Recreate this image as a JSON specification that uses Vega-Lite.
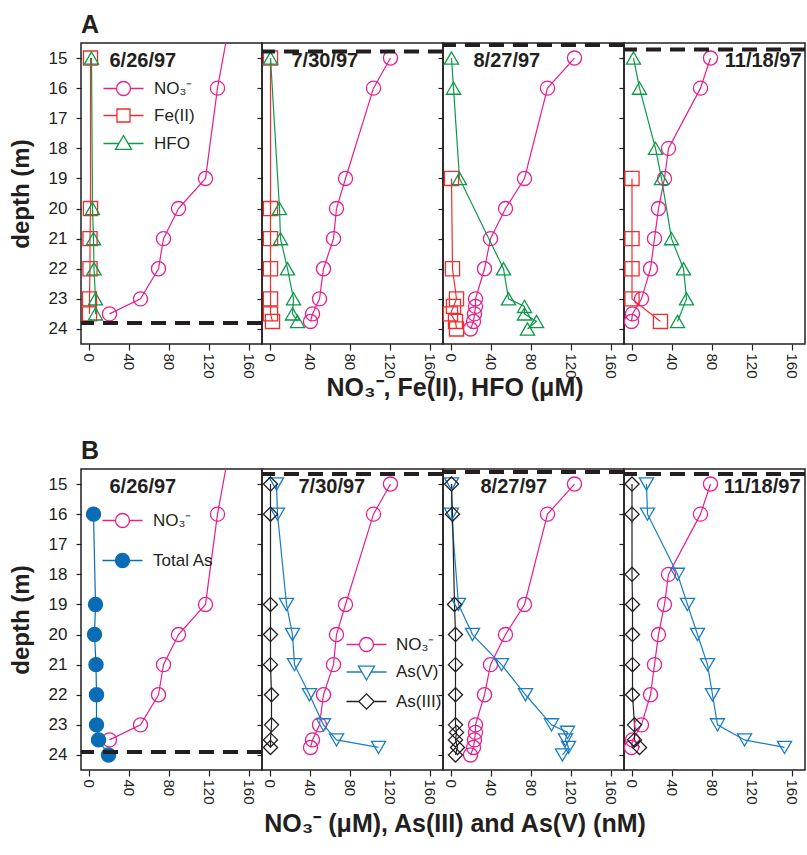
{
  "$schema": "https://vega.github.io/schema/vega-lite/v6.json",
  "background": "white",
  "padding": {"left": 8, "top": 12, "right": 0, "bottom": 0},
  "spacing": 37,
  "resolve": {"scale": {"color": "independent", "shape": "independent"}},
  "datasets": {
    "pts": [
      {"row":"A","date":"6/26/97","series":"NO₃⁻","depth":14,"value":140},
      {"row":"A","date":"6/26/97","series":"NO₃⁻","depth":16,"value":129},
      {"row":"A","date":"6/26/97","series":"NO₃⁻","depth":19,"value":117},
      {"row":"A","date":"6/26/97","series":"NO₃⁻","depth":20,"value":90},
      {"row":"A","date":"6/26/97","series":"NO₃⁻","depth":21,"value":75},
      {"row":"A","date":"6/26/97","series":"NO₃⁻","depth":22,"value":70},
      {"row":"A","date":"6/26/97","series":"NO₃⁻","depth":23,"value":52},
      {"row":"A","date":"6/26/97","series":"NO₃⁻","depth":23.5,"value":21},
      {"row":"A","date":"6/26/97","series":"Fe(II)","depth":15,"value":2},
      {"row":"A","date":"6/26/97","series":"Fe(II)","depth":20,"value":2},
      {"row":"A","date":"6/26/97","series":"Fe(II)","depth":21,"value":1.5},
      {"row":"A","date":"6/26/97","series":"Fe(II)","depth":22,"value":1.5},
      {"row":"A","date":"6/26/97","series":"Fe(II)","depth":23,"value":1},
      {"row":"A","date":"6/26/97","series":"Fe(II)","depth":23.5,"value":1},
      {"row":"A","date":"6/26/97","series":"HFO","depth":15,"value":3},
      {"row":"A","date":"6/26/97","series":"HFO","depth":20,"value":4},
      {"row":"A","date":"6/26/97","series":"HFO","depth":21,"value":5},
      {"row":"A","date":"6/26/97","series":"HFO","depth":22,"value":5.5},
      {"row":"A","date":"6/26/97","series":"HFO","depth":23,"value":7},
      {"row":"A","date":"6/26/97","series":"HFO","depth":23.5,"value":7},

      {"row":"A","date":"7/30/97","series":"NO₃⁻","depth":15,"value":121},
      {"row":"A","date":"7/30/97","series":"NO₃⁻","depth":16,"value":104},
      {"row":"A","date":"7/30/97","series":"NO₃⁻","depth":19,"value":76},
      {"row":"A","date":"7/30/97","series":"NO₃⁻","depth":20,"value":67},
      {"row":"A","date":"7/30/97","series":"NO₃⁻","depth":21,"value":64},
      {"row":"A","date":"7/30/97","series":"NO₃⁻","depth":22,"value":54},
      {"row":"A","date":"7/30/97","series":"NO₃⁻","depth":23,"value":50},
      {"row":"A","date":"7/30/97","series":"NO₃⁻","depth":23.5,"value":43},
      {"row":"A","date":"7/30/97","series":"NO₃⁻","depth":23.75,"value":41},
      {"row":"A","date":"7/30/97","series":"Fe(II)","depth":15,"value":1},
      {"row":"A","date":"7/30/97","series":"Fe(II)","depth":20,"value":1},
      {"row":"A","date":"7/30/97","series":"Fe(II)","depth":21,"value":1},
      {"row":"A","date":"7/30/97","series":"Fe(II)","depth":22,"value":1},
      {"row":"A","date":"7/30/97","series":"Fe(II)","depth":23,"value":1},
      {"row":"A","date":"7/30/97","series":"Fe(II)","depth":23.5,"value":1},
      {"row":"A","date":"7/30/97","series":"Fe(II)","depth":23.75,"value":3},
      {"row":"A","date":"7/30/97","series":"HFO","depth":15,"value":1},
      {"row":"A","date":"7/30/97","series":"HFO","depth":20,"value":10},
      {"row":"A","date":"7/30/97","series":"HFO","depth":21,"value":11},
      {"row":"A","date":"7/30/97","series":"HFO","depth":22,"value":18},
      {"row":"A","date":"7/30/97","series":"HFO","depth":23,"value":24},
      {"row":"A","date":"7/30/97","series":"HFO","depth":23.5,"value":23},
      {"row":"A","date":"7/30/97","series":"HFO","depth":23.75,"value":28},

      {"row":"A","date":"8/27/97","series":"NO₃⁻","depth":15,"value":124},
      {"row":"A","date":"8/27/97","series":"NO₃⁻","depth":16,"value":97},
      {"row":"A","date":"8/27/97","series":"NO₃⁻","depth":19,"value":74},
      {"row":"A","date":"8/27/97","series":"NO₃⁻","depth":20,"value":55},
      {"row":"A","date":"8/27/97","series":"NO₃⁻","depth":21,"value":40},
      {"row":"A","date":"8/27/97","series":"NO₃⁻","depth":22,"value":34},
      {"row":"A","date":"8/27/97","series":"NO₃⁻","depth":23,"value":25},
      {"row":"A","date":"8/27/97","series":"NO₃⁻","depth":23.25,"value":25},
      {"row":"A","date":"8/27/97","series":"NO₃⁻","depth":23.5,"value":24},
      {"row":"A","date":"8/27/97","series":"NO₃⁻","depth":23.75,"value":23},
      {"row":"A","date":"8/27/97","series":"NO₃⁻","depth":24,"value":20},
      {"row":"A","date":"8/27/97","series":"Fe(II)","depth":19,"value":1},
      {"row":"A","date":"8/27/97","series":"Fe(II)","depth":22,"value":2},
      {"row":"A","date":"8/27/97","series":"Fe(II)","depth":23,"value":6},
      {"row":"A","date":"8/27/97","series":"Fe(II)","depth":23.25,"value":3},
      {"row":"A","date":"8/27/97","series":"Fe(II)","depth":23.5,"value":0},
      {"row":"A","date":"8/27/97","series":"Fe(II)","depth":23.75,"value":5},
      {"row":"A","date":"8/27/97","series":"Fe(II)","depth":24,"value":6},
      {"row":"A","date":"8/27/97","series":"HFO","depth":15,"value":1},
      {"row":"A","date":"8/27/97","series":"HFO","depth":16,"value":3},
      {"row":"A","date":"8/27/97","series":"HFO","depth":19,"value":9},
      {"row":"A","date":"8/27/97","series":"HFO","depth":22,"value":53},
      {"row":"A","date":"8/27/97","series":"HFO","depth":23,"value":58},
      {"row":"A","date":"8/27/97","series":"HFO","depth":23.25,"value":74},
      {"row":"A","date":"8/27/97","series":"HFO","depth":23.5,"value":74},
      {"row":"A","date":"8/27/97","series":"HFO","depth":23.75,"value":86},
      {"row":"A","date":"8/27/97","series":"HFO","depth":24,"value":77},

      {"row":"A","date":"11/18/97","series":"NO₃⁻","depth":15,"value":79},
      {"row":"A","date":"11/18/97","series":"NO₃⁻","depth":16,"value":69},
      {"row":"A","date":"11/18/97","series":"NO₃⁻","depth":18,"value":37},
      {"row":"A","date":"11/18/97","series":"NO₃⁻","depth":19,"value":33},
      {"row":"A","date":"11/18/97","series":"NO₃⁻","depth":20,"value":27},
      {"row":"A","date":"11/18/97","series":"NO₃⁻","depth":21,"value":23},
      {"row":"A","date":"11/18/97","series":"NO₃⁻","depth":22,"value":19},
      {"row":"A","date":"11/18/97","series":"NO₃⁻","depth":23,"value":10},
      {"row":"A","date":"11/18/97","series":"NO₃⁻","depth":23.5,"value":1},
      {"row":"A","date":"11/18/97","series":"NO₃⁻","depth":23.75,"value":0},
      {"row":"A","date":"11/18/97","series":"Fe(II)","depth":19,"value":0.5},
      {"row":"A","date":"11/18/97","series":"Fe(II)","depth":21,"value":0.5},
      {"row":"A","date":"11/18/97","series":"Fe(II)","depth":22,"value":0.5},
      {"row":"A","date":"11/18/97","series":"Fe(II)","depth":23,"value":0.5},
      {"row":"A","date":"11/18/97","series":"Fe(II)","depth":23.75,"value":29},
      {"row":"A","date":"11/18/97","series":"HFO","depth":15,"value":2},
      {"row":"A","date":"11/18/97","series":"HFO","depth":16,"value":8},
      {"row":"A","date":"11/18/97","series":"HFO","depth":18,"value":24},
      {"row":"A","date":"11/18/97","series":"HFO","depth":19,"value":30},
      {"row":"A","date":"11/18/97","series":"HFO","depth":21,"value":40},
      {"row":"A","date":"11/18/97","series":"HFO","depth":22,"value":52},
      {"row":"A","date":"11/18/97","series":"HFO","depth":23,"value":55},
      {"row":"A","date":"11/18/97","series":"HFO","depth":23.75,"value":46},

      {"row":"B","date":"6/26/97","series":"NO₃⁻","depth":14,"value":140},
      {"row":"B","date":"6/26/97","series":"NO₃⁻","depth":16,"value":129},
      {"row":"B","date":"6/26/97","series":"NO₃⁻","depth":19,"value":117},
      {"row":"B","date":"6/26/97","series":"NO₃⁻","depth":20,"value":90},
      {"row":"B","date":"6/26/97","series":"NO₃⁻","depth":21,"value":75},
      {"row":"B","date":"6/26/97","series":"NO₃⁻","depth":22,"value":70},
      {"row":"B","date":"6/26/97","series":"NO₃⁻","depth":23,"value":52},
      {"row":"B","date":"6/26/97","series":"NO₃⁻","depth":23.5,"value":21},
      {"row":"B","date":"6/26/97","series":"Total As","depth":16,"value":5},
      {"row":"B","date":"6/26/97","series":"Total As","depth":19,"value":7},
      {"row":"B","date":"6/26/97","series":"Total As","depth":20,"value":6},
      {"row":"B","date":"6/26/97","series":"Total As","depth":21,"value":7.5},
      {"row":"B","date":"6/26/97","series":"Total As","depth":22,"value":8},
      {"row":"B","date":"6/26/97","series":"Total As","depth":23,"value":8},
      {"row":"B","date":"6/26/97","series":"Total As","depth":23.5,"value":10},
      {"row":"B","date":"6/26/97","series":"Total As","depth":24,"value":20},

      {"row":"B","date":"7/30/97","series":"NO₃⁻","depth":15,"value":121},
      {"row":"B","date":"7/30/97","series":"NO₃⁻","depth":16,"value":104},
      {"row":"B","date":"7/30/97","series":"NO₃⁻","depth":19,"value":76},
      {"row":"B","date":"7/30/97","series":"NO₃⁻","depth":20,"value":67},
      {"row":"B","date":"7/30/97","series":"NO₃⁻","depth":21,"value":64},
      {"row":"B","date":"7/30/97","series":"NO₃⁻","depth":22,"value":54},
      {"row":"B","date":"7/30/97","series":"NO₃⁻","depth":23,"value":50},
      {"row":"B","date":"7/30/97","series":"NO₃⁻","depth":23.5,"value":43},
      {"row":"B","date":"7/30/97","series":"NO₃⁻","depth":23.75,"value":41},
      {"row":"B","date":"7/30/97","series":"As(V)","depth":15,"value":7},
      {"row":"B","date":"7/30/97","series":"As(V)","depth":16,"value":8},
      {"row":"B","date":"7/30/97","series":"As(V)","depth":19,"value":17},
      {"row":"B","date":"7/30/97","series":"As(V)","depth":20,"value":23},
      {"row":"B","date":"7/30/97","series":"As(V)","depth":21,"value":25},
      {"row":"B","date":"7/30/97","series":"As(V)","depth":22,"value":40},
      {"row":"B","date":"7/30/97","series":"As(V)","depth":23,"value":54},
      {"row":"B","date":"7/30/97","series":"As(V)","depth":23.5,"value":67},
      {"row":"B","date":"7/30/97","series":"As(V)","depth":23.75,"value":109},
      {"row":"B","date":"7/30/97","series":"As(III)","depth":15,"value":1},
      {"row":"B","date":"7/30/97","series":"As(III)","depth":16,"value":1},
      {"row":"B","date":"7/30/97","series":"As(III)","depth":19,"value":1},
      {"row":"B","date":"7/30/97","series":"As(III)","depth":20,"value":1},
      {"row":"B","date":"7/30/97","series":"As(III)","depth":21,"value":1},
      {"row":"B","date":"7/30/97","series":"As(III)","depth":22,"value":2},
      {"row":"B","date":"7/30/97","series":"As(III)","depth":23,"value":2},
      {"row":"B","date":"7/30/97","series":"As(III)","depth":23.5,"value":1},
      {"row":"B","date":"7/30/97","series":"As(III)","depth":23.75,"value":1},

      {"row":"B","date":"8/27/97","series":"NO₃⁻","depth":15,"value":124},
      {"row":"B","date":"8/27/97","series":"NO₃⁻","depth":16,"value":97},
      {"row":"B","date":"8/27/97","series":"NO₃⁻","depth":19,"value":74},
      {"row":"B","date":"8/27/97","series":"NO₃⁻","depth":20,"value":55},
      {"row":"B","date":"8/27/97","series":"NO₃⁻","depth":21,"value":40},
      {"row":"B","date":"8/27/97","series":"NO₃⁻","depth":22,"value":34},
      {"row":"B","date":"8/27/97","series":"NO₃⁻","depth":23,"value":25},
      {"row":"B","date":"8/27/97","series":"NO₃⁻","depth":23.25,"value":25},
      {"row":"B","date":"8/27/97","series":"NO₃⁻","depth":23.5,"value":24},
      {"row":"B","date":"8/27/97","series":"NO₃⁻","depth":23.75,"value":23},
      {"row":"B","date":"8/27/97","series":"NO₃⁻","depth":24,"value":20},
      {"row":"B","date":"8/27/97","series":"As(V)","depth":15,"value":1},
      {"row":"B","date":"8/27/97","series":"As(V)","depth":16,"value":1},
      {"row":"B","date":"8/27/97","series":"As(V)","depth":19,"value":8},
      {"row":"B","date":"8/27/97","series":"As(V)","depth":20,"value":22},
      {"row":"B","date":"8/27/97","series":"As(V)","depth":21,"value":51},
      {"row":"B","date":"8/27/97","series":"As(V)","depth":22,"value":75},
      {"row":"B","date":"8/27/97","series":"As(V)","depth":23,"value":101},
      {"row":"B","date":"8/27/97","series":"As(V)","depth":23.25,"value":117},
      {"row":"B","date":"8/27/97","series":"As(V)","depth":23.5,"value":115},
      {"row":"B","date":"8/27/97","series":"As(V)","depth":23.75,"value":118},
      {"row":"B","date":"8/27/97","series":"As(V)","depth":24,"value":112},
      {"row":"B","date":"8/27/97","series":"As(III)","depth":15,"value":1},
      {"row":"B","date":"8/27/97","series":"As(III)","depth":16,"value":2},
      {"row":"B","date":"8/27/97","series":"As(III)","depth":19,"value":4},
      {"row":"B","date":"8/27/97","series":"As(III)","depth":20,"value":5},
      {"row":"B","date":"8/27/97","series":"As(III)","depth":21,"value":5},
      {"row":"B","date":"8/27/97","series":"As(III)","depth":22,"value":5},
      {"row":"B","date":"8/27/97","series":"As(III)","depth":23,"value":5},
      {"row":"B","date":"8/27/97","series":"As(III)","depth":23.25,"value":6},
      {"row":"B","date":"8/27/97","series":"As(III)","depth":23.5,"value":5},
      {"row":"B","date":"8/27/97","series":"As(III)","depth":23.75,"value":7},
      {"row":"B","date":"8/27/97","series":"As(III)","depth":24,"value":5},

      {"row":"B","date":"11/18/97","series":"NO₃⁻","depth":15,"value":79},
      {"row":"B","date":"11/18/97","series":"NO₃⁻","depth":16,"value":69},
      {"row":"B","date":"11/18/97","series":"NO₃⁻","depth":18,"value":37},
      {"row":"B","date":"11/18/97","series":"NO₃⁻","depth":19,"value":33},
      {"row":"B","date":"11/18/97","series":"NO₃⁻","depth":20,"value":27},
      {"row":"B","date":"11/18/97","series":"NO₃⁻","depth":21,"value":23},
      {"row":"B","date":"11/18/97","series":"NO₃⁻","depth":22,"value":19},
      {"row":"B","date":"11/18/97","series":"NO₃⁻","depth":23,"value":10},
      {"row":"B","date":"11/18/97","series":"NO₃⁻","depth":23.5,"value":1},
      {"row":"B","date":"11/18/97","series":"NO₃⁻","depth":23.75,"value":0},
      {"row":"B","date":"11/18/97","series":"As(V)","depth":15,"value":15},
      {"row":"B","date":"11/18/97","series":"As(V)","depth":16,"value":16},
      {"row":"B","date":"11/18/97","series":"As(V)","depth":18,"value":46},
      {"row":"B","date":"11/18/97","series":"As(V)","depth":19,"value":56},
      {"row":"B","date":"11/18/97","series":"As(V)","depth":20,"value":66},
      {"row":"B","date":"11/18/97","series":"As(V)","depth":21,"value":76},
      {"row":"B","date":"11/18/97","series":"As(V)","depth":22,"value":81},
      {"row":"B","date":"11/18/97","series":"As(V)","depth":23,"value":86},
      {"row":"B","date":"11/18/97","series":"As(V)","depth":23.5,"value":113},
      {"row":"B","date":"11/18/97","series":"As(V)","depth":23.75,"value":153},
      {"row":"B","date":"11/18/97","series":"As(III)","depth":15,"value":0.5},
      {"row":"B","date":"11/18/97","series":"As(III)","depth":16,"value":0.5},
      {"row":"B","date":"11/18/97","series":"As(III)","depth":18,"value":0.5},
      {"row":"B","date":"11/18/97","series":"As(III)","depth":19,"value":1},
      {"row":"B","date":"11/18/97","series":"As(III)","depth":20,"value":1},
      {"row":"B","date":"11/18/97","series":"As(III)","depth":21,"value":1},
      {"row":"B","date":"11/18/97","series":"As(III)","depth":22,"value":1},
      {"row":"B","date":"11/18/97","series":"As(III)","depth":23,"value":3},
      {"row":"B","date":"11/18/97","series":"As(III)","depth":23.5,"value":3},
      {"row":"B","date":"11/18/97","series":"As(III)","depth":23.75,"value":8}
    ],
    "panels": [
      {"row":"A","date":"6/26/97","interface":23.8},
      {"row":"A","date":"7/30/97","interface":14.78},
      {"row":"A","date":"8/27/97","interface":14.57},
      {"row":"A","date":"11/18/97","interface":14.72},
      {"row":"B","date":"6/26/97","interface":23.9},
      {"row":"B","date":"7/30/97","interface":14.67},
      {"row":"B","date":"8/27/97","interface":14.6},
      {"row":"B","date":"11/18/97","interface":14.67}
    ]
  },
  "vconcat": [
    {
      "title": {"text": "NO₃⁻, Fe(II), HFO (μM)", "orient": "bottom", "anchor": "middle", "dx": 47, "offset": -3},
      "bounds": "flush",
      "spacing": 0,
      "resolve": {"scale": {"color": "independent", "shape": "independent"}},
      "hconcat": [
        {
          "width": 181, "height": 301,
          "layer": [
            {"data": {"name": "pts"}, "transform": [{"filter": "datum.row == 'A' && datum.date == '6/26/97'"}],
             "mark": {"type": "line", "strokeWidth": 1.2, "clip": true},
             "encoding": {
               "x": {"field": "value", "type": "quantitative", "scale": {"domain": [-7.5, 173.5], "nice": false, "zero": false}, "axis": {"values": [0,40,80,120,160], "labelAngle": 90, "tickSize": 6, "labelPadding": 3, "labelOverlap": false, "title": null}},
               "y": {"field": "depth", "type": "quantitative", "scale": {"domain": [14.5, 24.5], "reverse": true, "nice": false, "zero": false}, "axis": {"values": [15,16,17,18,19,20,21,22,23,24], "labelOverlap": false, "title": "depth (m)", "tickSize": 5, "labelPadding": 9, "titlePadding": 15}},
               "color": {"field": "series", "type": "nominal", "scale": {"domain": ["NO₃⁻","Fe(II)","HFO"], "range": ["#e91e8c","#ee2d2f","#0b9a48"]}},
               "order": {"field": "depth", "type": "quantitative"}
             }},
            {"data": {"name": "pts"}, "transform": [{"filter": "datum.row == 'A' && datum.date == '6/26/97'"}],
             "mark": {"type": "point", "filled": false, "strokeWidth": 1.3, "size": 200, "opacity": 1, "clip": true},
             "encoding": {
               "x": {"field": "value", "type": "quantitative", "scale": {"domain": [-7.5, 173.5], "nice": false, "zero": false}, "axis": {"values": [0,40,80,120,160], "labelAngle": 90, "tickSize": 6, "labelPadding": 3, "labelOverlap": false, "title": null}},
               "y": {"field": "depth", "type": "quantitative", "scale": {"domain": [14.5, 24.5], "reverse": true, "nice": false, "zero": false}, "axis": {"values": [15,16,17,18,19,20,21,22,23,24], "labelOverlap": false, "title": "depth (m)", "tickSize": 5, "labelPadding": 9, "titlePadding": 15}},
               "color": {"field": "series", "type": "nominal", "scale": {"domain": ["NO₃⁻","Fe(II)","HFO"], "range": ["#e91e8c","#ee2d2f","#0b9a48"]}},
               "shape": {"condition": [{"test": "datum.series == 'NO₃⁻'", "value": "circle"}, {"test": "datum.series == 'Fe(II)'", "value": "square"}], "value": "triangle-up"}
             }},
            {"data": {"name": "pts"}, "transform": [{"filter": "datum.depth < 0"}],
             "mark": {"type": "point", "filled": false, "strokeWidth": 1.3, "size": 196},
             "encoding": {
               "x": {"field": "value", "type": "quantitative", "scale": {"domain": [-7.5, 173.5], "nice": false, "zero": false}, "axis": {"values": [0,40,80,120,160], "labelAngle": 90, "tickSize": 6, "labelPadding": 3, "labelOverlap": false, "title": null}},
               "y": {"field": "depth", "type": "quantitative", "scale": {"domain": [14.5, 24.5], "reverse": true, "nice": false, "zero": false}, "axis": {"values": [15,16,17,18,19,20,21,22,23,24], "labelOverlap": false, "title": "depth (m)", "tickSize": 5, "labelPadding": 9, "titlePadding": 15}},
               "color": {"field": "series", "type": "nominal", "scale": {"domain": ["NO₃⁻","Fe(II)","HFO"], "range": ["#e91e8c","#ee2d2f","#0b9a48"]},
                 "legend": {"orient": "none", "legendX": 34, "legendY": 37, "title": null, "symbolSize": 196, "symbolStrokeWidth": 1.3, "symbolOpacity": 1, "labelFontSize": 17, "labelOffset": 22, "rowPadding": 7}},
               "shape": {"field": "series", "type": "nominal", "scale": {"domain": ["NO₃⁻","Fe(II)","HFO"], "range": ["M-2.86,0H-1M1,0H2.86M1,0A1,1,0,1,1,-1,0A1,1,0,1,1,1,0Z", "M-2.86,0H-0.93M0.93,0H2.86M-0.93,-0.93H0.93V0.93H-0.93Z", "M-2.86,0H-0.66M0.66,0H2.86M0,-1.15L1.15,0.85H-1.15Z"]},
                 "legend": {"orient": "none", "legendX": 34, "legendY": 37, "title": null, "symbolSize": 196, "symbolStrokeWidth": 1.3, "symbolOpacity": 1, "labelFontSize": 17, "labelOffset": 22, "rowPadding": 7}}
             }},
            {"data": {"name": "panels"}, "transform": [{"filter": "datum.row == 'A' && datum.date == '6/26/97'"}],
             "mark": {"type": "rule", "strokeDash": [15, 9], "strokeWidth": 4, "color": "#231f20"},
             "encoding": {"y": {"field": "interface", "type": "quantitative", "scale": {"domain": [14.5, 24.5], "reverse": true, "nice": false, "zero": false}, "axis": {"values": [15,16,17,18,19,20,21,22,23,24], "labelOverlap": false, "title": "depth (m)", "tickSize": 5, "labelPadding": 9, "titlePadding": 15}}}},
            {"data": {"name": "panels"}, "transform": [{"filter": "datum.row == 'A' && datum.date == '6/26/97'"}],
             "mark": {"type": "text", "align": "left", "baseline": "middle", "fontSize": 20, "fontWeight": "bold", "color": "#231f20"},
             "encoding": {
               "x": {"datum": 21, "type": "quantitative", "scale": {"domain": [-7.5, 173.5], "nice": false, "zero": false}, "axis": {"values": [0,40,80,120,160], "labelAngle": 90, "tickSize": 6, "labelPadding": 3, "labelOverlap": false, "title": null}},
               "y": {"datum": 15.1, "type": "quantitative", "scale": {"domain": [14.5, 24.5], "reverse": true, "nice": false, "zero": false}, "axis": {"values": [15,16,17,18,19,20,21,22,23,24], "labelOverlap": false, "title": "depth (m)", "tickSize": 5, "labelPadding": 9, "titlePadding": 15}},
               "text": {"field": "date"}}},
            {"data": {"values": [{"panel": "A"}]},
             "mark": {"type": "text", "align": "left", "baseline": "alphabetic", "dy": -10, "fontSize": 25, "fontWeight": "bold", "color": "#231f20"},
             "encoding": {
               "x": {"datum": -7.5, "type": "quantitative", "scale": {"domain": [-7.5, 173.5], "nice": false, "zero": false}, "axis": {"values": [0,40,80,120,160], "labelAngle": 90, "tickSize": 6, "labelPadding": 3, "labelOverlap": false, "title": null}},
               "y": {"datum": 14.5, "type": "quantitative", "scale": {"domain": [14.5, 24.5], "reverse": true, "nice": false, "zero": false}, "axis": {"values": [15,16,17,18,19,20,21,22,23,24], "labelOverlap": false, "title": "depth (m)", "tickSize": 5, "labelPadding": 9, "titlePadding": 15}},
               "text": {"field": "panel"}}}
          ]
        },
        {
          "width": 181, "height": 301,
          "layer": [
            {"data": {"name": "pts"}, "transform": [{"filter": "datum.row == 'A' && datum.date == '7/30/97'"}],
             "mark": {"type": "line", "strokeWidth": 1.2, "clip": true},
             "encoding": {
               "x": {"field": "value", "type": "quantitative", "scale": {"domain": [-7.5, 173.5], "nice": false, "zero": false}, "axis": {"values": [0,40,80,120,160], "labelAngle": 90, "tickSize": 6, "labelPadding": 3, "labelOverlap": false, "title": null}},
               "y": {"field": "depth", "type": "quantitative", "scale": {"domain": [14.5, 24.5], "reverse": true, "nice": false, "zero": false}, "axis": {"values": [15,16,17,18,19,20,21,22,23,24], "labels": false, "title": null, "tickSize": 5}},
               "color": {"field": "series", "type": "nominal", "scale": {"domain": ["NO₃⁻","Fe(II)","HFO"], "range": ["#e91e8c","#ee2d2f","#0b9a48"]}, "legend": null},
               "order": {"field": "depth", "type": "quantitative"}
             }},
            {"data": {"name": "pts"}, "transform": [{"filter": "datum.row == 'A' && datum.date == '7/30/97'"}],
             "mark": {"type": "point", "filled": false, "strokeWidth": 1.3, "size": 200, "opacity": 1, "clip": true},
             "encoding": {
               "x": {"field": "value", "type": "quantitative", "scale": {"domain": [-7.5, 173.5], "nice": false, "zero": false}, "axis": {"values": [0,40,80,120,160], "labelAngle": 90, "tickSize": 6, "labelPadding": 3, "labelOverlap": false, "title": null}},
               "y": {"field": "depth", "type": "quantitative", "scale": {"domain": [14.5, 24.5], "reverse": true, "nice": false, "zero": false}, "axis": {"values": [15,16,17,18,19,20,21,22,23,24], "labels": false, "title": null, "tickSize": 5}},
               "color": {"field": "series", "type": "nominal", "scale": {"domain": ["NO₃⁻","Fe(II)","HFO"], "range": ["#e91e8c","#ee2d2f","#0b9a48"]}, "legend": null},
               "shape": {"field": "series", "type": "nominal", "scale": {"domain": ["NO₃⁻","Fe(II)","HFO"], "range": ["circle","square","triangle-up"]}, "legend": null}
             }},
            {"data": {"name": "panels"}, "transform": [{"filter": "datum.row == 'A' && datum.date == '7/30/97'"}],
             "mark": {"type": "rule", "strokeDash": [15, 9], "strokeWidth": 4, "color": "#231f20"},
             "encoding": {"y": {"field": "interface", "type": "quantitative", "scale": {"domain": [14.5, 24.5], "reverse": true, "nice": false, "zero": false}, "axis": {"values": [15,16,17,18,19,20,21,22,23,24], "labels": false, "title": null, "tickSize": 5}}}},
            {"data": {"name": "panels"}, "transform": [{"filter": "datum.row == 'A' && datum.date == '7/30/97'"}],
             "mark": {"type": "text", "align": "left", "baseline": "middle", "fontSize": 20, "fontWeight": "bold", "color": "#231f20"},
             "encoding": {
               "x": {"datum": 22, "type": "quantitative", "scale": {"domain": [-7.5, 173.5], "nice": false, "zero": false}, "axis": {"values": [0,40,80,120,160], "labelAngle": 90, "tickSize": 6, "labelPadding": 3, "labelOverlap": false, "title": null}},
               "y": {"datum": 15.1, "type": "quantitative", "scale": {"domain": [14.5, 24.5], "reverse": true, "nice": false, "zero": false}, "axis": {"values": [15,16,17,18,19,20,21,22,23,24], "labels": false, "title": null, "tickSize": 5}},
               "text": {"field": "date"}}}
          ]
        },
        {
          "width": 181, "height": 301,
          "layer": [
            {"data": {"name": "pts"}, "transform": [{"filter": "datum.row == 'A' && datum.date == '8/27/97'"}],
             "mark": {"type": "line", "strokeWidth": 1.2, "clip": true},
             "encoding": {
               "x": {"field": "value", "type": "quantitative", "scale": {"domain": [-7.5, 173.5], "nice": false, "zero": false}, "axis": {"values": [0,40,80,120,160], "labelAngle": 90, "tickSize": 6, "labelPadding": 3, "labelOverlap": false, "title": null}},
               "y": {"field": "depth", "type": "quantitative", "scale": {"domain": [14.5, 24.5], "reverse": true, "nice": false, "zero": false}, "axis": {"values": [15,16,17,18,19,20,21,22,23,24], "labels": false, "title": null, "tickSize": 5}},
               "color": {"field": "series", "type": "nominal", "scale": {"domain": ["NO₃⁻","Fe(II)","HFO"], "range": ["#e91e8c","#ee2d2f","#0b9a48"]}, "legend": null},
               "order": {"field": "depth", "type": "quantitative"}
             }},
            {"data": {"name": "pts"}, "transform": [{"filter": "datum.row == 'A' && datum.date == '8/27/97'"}],
             "mark": {"type": "point", "filled": false, "strokeWidth": 1.3, "size": 200, "opacity": 1, "clip": true},
             "encoding": {
               "x": {"field": "value", "type": "quantitative", "scale": {"domain": [-7.5, 173.5], "nice": false, "zero": false}, "axis": {"values": [0,40,80,120,160], "labelAngle": 90, "tickSize": 6, "labelPadding": 3, "labelOverlap": false, "title": null}},
               "y": {"field": "depth", "type": "quantitative", "scale": {"domain": [14.5, 24.5], "reverse": true, "nice": false, "zero": false}, "axis": {"values": [15,16,17,18,19,20,21,22,23,24], "labels": false, "title": null, "tickSize": 5}},
               "color": {"field": "series", "type": "nominal", "scale": {"domain": ["NO₃⁻","Fe(II)","HFO"], "range": ["#e91e8c","#ee2d2f","#0b9a48"]}, "legend": null},
               "shape": {"field": "series", "type": "nominal", "scale": {"domain": ["NO₃⁻","Fe(II)","HFO"], "range": ["circle","square","triangle-up"]}, "legend": null}
             }},
            {"data": {"name": "panels"}, "transform": [{"filter": "datum.row == 'A' && datum.date == '8/27/97'"}],
             "mark": {"type": "rule", "strokeDash": [15, 9], "strokeWidth": 4, "color": "#231f20"},
             "encoding": {"y": {"field": "interface", "type": "quantitative", "scale": {"domain": [14.5, 24.5], "reverse": true, "nice": false, "zero": false}, "axis": {"values": [15,16,17,18,19,20,21,22,23,24], "labels": false, "title": null, "tickSize": 5}}}},
            {"data": {"name": "panels"}, "transform": [{"filter": "datum.row == 'A' && datum.date == '8/27/97'"}],
             "mark": {"type": "text", "align": "left", "baseline": "middle", "fontSize": 20, "fontWeight": "bold", "color": "#231f20"},
             "encoding": {
               "x": {"datum": 23, "type": "quantitative", "scale": {"domain": [-7.5, 173.5], "nice": false, "zero": false}, "axis": {"values": [0,40,80,120,160], "labelAngle": 90, "tickSize": 6, "labelPadding": 3, "labelOverlap": false, "title": null}},
               "y": {"datum": 15.1, "type": "quantitative", "scale": {"domain": [14.5, 24.5], "reverse": true, "nice": false, "zero": false}, "axis": {"values": [15,16,17,18,19,20,21,22,23,24], "labels": false, "title": null, "tickSize": 5}},
               "text": {"field": "date"}}}
          ]
        },
        {
          "width": 181, "height": 301,
          "layer": [
            {"data": {"name": "pts"}, "transform": [{"filter": "datum.row == 'A' && datum.date == '11/18/97'"}],
             "mark": {"type": "line", "strokeWidth": 1.2, "clip": true},
             "encoding": {
               "x": {"field": "value", "type": "quantitative", "scale": {"domain": [-7.5, 173.5], "nice": false, "zero": false}, "axis": {"values": [0,40,80,120,160], "labelAngle": 90, "tickSize": 6, "labelPadding": 3, "labelOverlap": false, "title": null}},
               "y": {"field": "depth", "type": "quantitative", "scale": {"domain": [14.5, 24.5], "reverse": true, "nice": false, "zero": false}, "axis": {"values": [15,16,17,18,19,20,21,22,23,24], "labels": false, "title": null, "tickSize": 5}},
               "color": {"field": "series", "type": "nominal", "scale": {"domain": ["NO₃⁻","Fe(II)","HFO"], "range": ["#e91e8c","#ee2d2f","#0b9a48"]}, "legend": null},
               "order": {"field": "depth", "type": "quantitative"}
             }},
            {"data": {"name": "pts"}, "transform": [{"filter": "datum.row == 'A' && datum.date == '11/18/97'"}],
             "mark": {"type": "point", "filled": false, "strokeWidth": 1.3, "size": 200, "opacity": 1, "clip": true},
             "encoding": {
               "x": {"field": "value", "type": "quantitative", "scale": {"domain": [-7.5, 173.5], "nice": false, "zero": false}, "axis": {"values": [0,40,80,120,160], "labelAngle": 90, "tickSize": 6, "labelPadding": 3, "labelOverlap": false, "title": null}},
               "y": {"field": "depth", "type": "quantitative", "scale": {"domain": [14.5, 24.5], "reverse": true, "nice": false, "zero": false}, "axis": {"values": [15,16,17,18,19,20,21,22,23,24], "labels": false, "title": null, "tickSize": 5}},
               "color": {"field": "series", "type": "nominal", "scale": {"domain": ["NO₃⁻","Fe(II)","HFO"], "range": ["#e91e8c","#ee2d2f","#0b9a48"]}, "legend": null},
               "shape": {"field": "series", "type": "nominal", "scale": {"domain": ["NO₃⁻","Fe(II)","HFO"], "range": ["circle","square","triangle-up"]}, "legend": null}
             }},
            {"data": {"name": "panels"}, "transform": [{"filter": "datum.row == 'A' && datum.date == '11/18/97'"}],
             "mark": {"type": "rule", "strokeDash": [15, 9], "strokeWidth": 4, "color": "#231f20"},
             "encoding": {"y": {"field": "interface", "type": "quantitative", "scale": {"domain": [14.5, 24.5], "reverse": true, "nice": false, "zero": false}, "axis": {"values": [15,16,17,18,19,20,21,22,23,24], "labels": false, "title": null, "tickSize": 5}}}},
            {"data": {"name": "panels"}, "transform": [{"filter": "datum.row == 'A' && datum.date == '11/18/97'"}],
             "mark": {"type": "text", "align": "right", "baseline": "middle", "fontSize": 20, "fontWeight": "bold", "color": "#231f20"},
             "encoding": {
               "x": {"datum": 170, "type": "quantitative", "scale": {"domain": [-7.5, 173.5], "nice": false, "zero": false}, "axis": {"values": [0,40,80,120,160], "labelAngle": 90, "tickSize": 6, "labelPadding": 3, "labelOverlap": false, "title": null}},
               "y": {"datum": 15.1, "type": "quantitative", "scale": {"domain": [14.5, 24.5], "reverse": true, "nice": false, "zero": false}, "axis": {"values": [15,16,17,18,19,20,21,22,23,24], "labels": false, "title": null, "tickSize": 5}},
               "text": {"field": "date"}}}
          ]
        }
      ]
    },
    {
      "title": {"text": "NO₃⁻ (μM), As(III) and As(V) (nM)", "orient": "bottom", "anchor": "middle", "dx": 47, "offset": 7},
      "bounds": "flush",
      "spacing": 0,
      "resolve": {"scale": {"color": "independent", "shape": "independent"}},
      "hconcat": [
        {
          "width": 181, "height": 301,
          "layer": [
            {"data": {"name": "pts"}, "transform": [{"filter": "datum.row == 'B' && datum.date == '6/26/97'"}],
             "mark": {"type": "line", "strokeWidth": 1.2, "clip": true},
             "encoding": {
               "x": {"field": "value", "type": "quantitative", "scale": {"domain": [-7.5, 173.5], "nice": false, "zero": false}, "axis": {"values": [0,40,80,120,160], "labelAngle": 90, "tickSize": 6, "labelPadding": 3, "labelOverlap": false, "title": null}},
               "y": {"field": "depth", "type": "quantitative", "scale": {"domain": [14.5, 24.5], "reverse": true, "nice": false, "zero": false}, "axis": {"values": [15,16,17,18,19,20,21,22,23,24], "labelOverlap": false, "title": "depth (m)", "tickSize": 5, "labelPadding": 9, "titlePadding": 15}},
               "color": {"field": "series", "type": "nominal", "scale": {"domain": ["NO₃⁻","Total As"], "range": ["#e91e8c","#0a6cb5"]}},
               "order": {"field": "depth", "type": "quantitative"}
             }},
            {"data": {"name": "pts"}, "transform": [{"filter": "datum.row == 'B' && datum.date == '6/26/97'"}],
             "mark": {"type": "point", "filled": false, "shape": "circle", "strokeWidth": 1.3, "size": 200, "opacity": 1, "clip": true},
             "encoding": {
               "x": {"field": "value", "type": "quantitative", "scale": {"domain": [-7.5, 173.5], "nice": false, "zero": false}, "axis": {"values": [0,40,80,120,160], "labelAngle": 90, "tickSize": 6, "labelPadding": 3, "labelOverlap": false, "title": null}},
               "y": {"field": "depth", "type": "quantitative", "scale": {"domain": [14.5, 24.5], "reverse": true, "nice": false, "zero": false}, "axis": {"values": [15,16,17,18,19,20,21,22,23,24], "labelOverlap": false, "title": "depth (m)", "tickSize": 5, "labelPadding": 9, "titlePadding": 15}},
               "fill": {"condition": {"test": "datum.series == 'Total As'", "value": "#0a6cb5"}, "value": "transparent"},
               "color": {"field": "series", "type": "nominal", "scale": {"domain": ["NO₃⁻","Total As"], "range": ["#e91e8c","#0a6cb5"]}}
             }},
            {"data": {"name": "pts"}, "transform": [{"filter": "datum.depth < 0"}],
             "mark": {"type": "point", "filled": false, "strokeWidth": 1.3, "size": 196},
             "encoding": {
               "x": {"field": "value", "type": "quantitative", "scale": {"domain": [-7.5, 173.5], "nice": false, "zero": false}, "axis": {"values": [0,40,80,120,160], "labelAngle": 90, "tickSize": 6, "labelPadding": 3, "labelOverlap": false, "title": null}},
               "y": {"field": "depth", "type": "quantitative", "scale": {"domain": [14.5, 24.5], "reverse": true, "nice": false, "zero": false}, "axis": {"values": [15,16,17,18,19,20,21,22,23,24], "labelOverlap": false, "title": "depth (m)", "tickSize": 5, "labelPadding": 9, "titlePadding": 15}},
               "color": {"field": "series", "type": "nominal", "scale": {"domain": ["NO₃⁻","Total As"], "range": ["#e91e8c","#0a6cb5"]},
                 "legend": {"orient": "none", "legendX": 33, "legendY": 43, "title": null, "symbolSize": 196, "symbolStrokeWidth": 1.3, "symbolOpacity": 1, "labelFontSize": 17, "labelOffset": 22, "rowPadding": 19,
                   "encoding": {"symbols": {"fill": {"condition": {"test": "datum.value == 'Total As'", "value": "#0a6cb5"}, "value": "transparent"}}}}},
               "shape": {"field": "series", "type": "nominal", "scale": {"domain": ["NO₃⁻","Total As"], "range": ["M-2.86,0H-1M1,0H2.86M1,0A1,1,0,1,1,-1,0A1,1,0,1,1,1,0Z", "M-2.86,0H-1M1,0H2.86M1,0A1,1,0,1,1,-1,0A1,1,0,1,1,1,0Z"]},
                 "legend": {"orient": "none", "legendX": 33, "legendY": 43, "title": null, "symbolSize": 196, "symbolStrokeWidth": 1.3, "symbolOpacity": 1, "labelFontSize": 17, "labelOffset": 22, "rowPadding": 19,
                   "encoding": {"symbols": {"fill": {"condition": {"test": "datum.value == 'Total As'", "value": "#0a6cb5"}, "value": "transparent"}}}}}
             }},
            {"data": {"name": "panels"}, "transform": [{"filter": "datum.row == 'B' && datum.date == '6/26/97'"}],
             "mark": {"type": "rule", "strokeDash": [15, 9], "strokeWidth": 4, "color": "#231f20"},
             "encoding": {"y": {"field": "interface", "type": "quantitative", "scale": {"domain": [14.5, 24.5], "reverse": true, "nice": false, "zero": false}, "axis": {"values": [15,16,17,18,19,20,21,22,23,24], "labelOverlap": false, "title": "depth (m)", "tickSize": 5, "labelPadding": 9, "titlePadding": 15}}}},
            {"data": {"name": "panels"}, "transform": [{"filter": "datum.row == 'B' && datum.date == '6/26/97'"}],
             "mark": {"type": "text", "align": "left", "baseline": "middle", "fontSize": 20, "fontWeight": "bold", "color": "#231f20"},
             "encoding": {
               "x": {"datum": 21, "type": "quantitative", "scale": {"domain": [-7.5, 173.5], "nice": false, "zero": false}, "axis": {"values": [0,40,80,120,160], "labelAngle": 90, "tickSize": 6, "labelPadding": 3, "labelOverlap": false, "title": null}},
               "y": {"datum": 15.1, "type": "quantitative", "scale": {"domain": [14.5, 24.5], "reverse": true, "nice": false, "zero": false}, "axis": {"values": [15,16,17,18,19,20,21,22,23,24], "labelOverlap": false, "title": "depth (m)", "tickSize": 5, "labelPadding": 9, "titlePadding": 15}},
               "text": {"field": "date"}}},
            {"data": {"values": [{"panel": "B"}]},
             "mark": {"type": "text", "align": "left", "baseline": "alphabetic", "dy": -10, "fontSize": 25, "fontWeight": "bold", "color": "#231f20"},
             "encoding": {
               "x": {"datum": -7.5, "type": "quantitative", "scale": {"domain": [-7.5, 173.5], "nice": false, "zero": false}, "axis": {"values": [0,40,80,120,160], "labelAngle": 90, "tickSize": 6, "labelPadding": 3, "labelOverlap": false, "title": null}},
               "y": {"datum": 14.5, "type": "quantitative", "scale": {"domain": [14.5, 24.5], "reverse": true, "nice": false, "zero": false}, "axis": {"values": [15,16,17,18,19,20,21,22,23,24], "labelOverlap": false, "title": "depth (m)", "tickSize": 5, "labelPadding": 9, "titlePadding": 15}},
               "text": {"field": "panel"}}}
          ]
        },
        {
          "width": 181, "height": 301,
          "layer": [
            {"data": {"name": "pts"}, "transform": [{"filter": "datum.row == 'B' && datum.date == '7/30/97'"}],
             "mark": {"type": "line", "strokeWidth": 1.2, "clip": true},
             "encoding": {
               "x": {"field": "value", "type": "quantitative", "scale": {"domain": [-7.5, 173.5], "nice": false, "zero": false}, "axis": {"values": [0,40,80,120,160], "labelAngle": 90, "tickSize": 6, "labelPadding": 3, "labelOverlap": false, "title": null}},
               "y": {"field": "depth", "type": "quantitative", "scale": {"domain": [14.5, 24.5], "reverse": true, "nice": false, "zero": false}, "axis": {"values": [15,16,17,18,19,20,21,22,23,24], "labels": false, "title": null, "tickSize": 5}},
               "color": {"field": "series", "type": "nominal", "scale": {"domain": ["NO₃⁻","As(V)","As(III)"], "range": ["#e91e8c","#1a7dc3","#231f20"]}},
               "order": {"field": "depth", "type": "quantitative"}
             }},
            {"data": {"name": "pts"}, "transform": [{"filter": "datum.row == 'B' && datum.date == '7/30/97'"}],
             "mark": {"type": "point", "filled": false, "strokeWidth": 1.3, "size": 200, "opacity": 1, "clip": true},
             "encoding": {
               "x": {"field": "value", "type": "quantitative", "scale": {"domain": [-7.5, 173.5], "nice": false, "zero": false}, "axis": {"values": [0,40,80,120,160], "labelAngle": 90, "tickSize": 6, "labelPadding": 3, "labelOverlap": false, "title": null}},
               "y": {"field": "depth", "type": "quantitative", "scale": {"domain": [14.5, 24.5], "reverse": true, "nice": false, "zero": false}, "axis": {"values": [15,16,17,18,19,20,21,22,23,24], "labels": false, "title": null, "tickSize": 5}},
               "color": {"field": "series", "type": "nominal", "scale": {"domain": ["NO₃⁻","As(V)","As(III)"], "range": ["#e91e8c","#1a7dc3","#231f20"]}},
               "shape": {"condition": [{"test": "datum.series == 'NO₃⁻'", "value": "circle"}, {"test": "datum.series == 'As(V)'", "value": "triangle-down"}], "value": "diamond"}
             }},
            {"data": {"name": "pts"}, "transform": [{"filter": "datum.depth < 0"}],
             "mark": {"type": "point", "filled": false, "strokeWidth": 1.3, "size": 196},
             "encoding": {
               "x": {"field": "value", "type": "quantitative", "scale": {"domain": [-7.5, 173.5], "nice": false, "zero": false}, "axis": {"values": [0,40,80,120,160], "labelAngle": 90, "tickSize": 6, "labelPadding": 3, "labelOverlap": false, "title": null}},
               "y": {"field": "depth", "type": "quantitative", "scale": {"domain": [14.5, 24.5], "reverse": true, "nice": false, "zero": false}, "axis": {"values": [15,16,17,18,19,20,21,22,23,24], "labels": false, "title": null, "tickSize": 5}},
               "color": {"field": "series", "type": "nominal", "scale": {"domain": ["NO₃⁻","As(V)","As(III)"], "range": ["#e91e8c","#1a7dc3","#231f20"]},
                 "legend": {"orient": "none", "legendX": 96, "legendY": 167, "title": null, "symbolSize": 196, "symbolStrokeWidth": 1.3, "symbolOpacity": 1, "labelFontSize": 17, "labelOffset": 21, "rowPadding": 7.5}},
               "shape": {"field": "series", "type": "nominal", "scale": {"domain": ["NO₃⁻","As(V)","As(III)"], "range": ["M-2.86,0H-1M1,0H2.86M1,0A1,1,0,1,1,-1,0A1,1,0,1,1,1,0Z", "M-2.86,0H-0.66M0.66,0H2.86M0,1.15L1.15,-0.85H-1.15Z", "M-2.86,0H-1.1M1.1,0H2.86M-1.1,0L0,-1.1L1.1,0L0,1.1Z"]},
                 "legend": {"orient": "none", "legendX": 96, "legendY": 167, "title": null, "symbolSize": 196, "symbolStrokeWidth": 1.3, "symbolOpacity": 1, "labelFontSize": 17, "labelOffset": 21, "rowPadding": 7.5}}
             }},
            {"data": {"name": "panels"}, "transform": [{"filter": "datum.row == 'B' && datum.date == '7/30/97'"}],
             "mark": {"type": "rule", "strokeDash": [15, 9], "strokeWidth": 4, "color": "#231f20"},
             "encoding": {"y": {"field": "interface", "type": "quantitative", "scale": {"domain": [14.5, 24.5], "reverse": true, "nice": false, "zero": false}, "axis": {"values": [15,16,17,18,19,20,21,22,23,24], "labels": false, "title": null, "tickSize": 5}}}},
            {"data": {"name": "panels"}, "transform": [{"filter": "datum.row == 'B' && datum.date == '7/30/97'"}],
             "mark": {"type": "text", "align": "left", "baseline": "middle", "fontSize": 20, "fontWeight": "bold", "color": "#231f20"},
             "encoding": {
               "x": {"datum": 29, "type": "quantitative", "scale": {"domain": [-7.5, 173.5], "nice": false, "zero": false}, "axis": {"values": [0,40,80,120,160], "labelAngle": 90, "tickSize": 6, "labelPadding": 3, "labelOverlap": false, "title": null}},
               "y": {"datum": 15.1, "type": "quantitative", "scale": {"domain": [14.5, 24.5], "reverse": true, "nice": false, "zero": false}, "axis": {"values": [15,16,17,18,19,20,21,22,23,24], "labels": false, "title": null, "tickSize": 5}},
               "text": {"field": "date"}}}
          ]
        },
        {
          "width": 181, "height": 301,
          "layer": [
            {"data": {"name": "pts"}, "transform": [{"filter": "datum.row == 'B' && datum.date == '8/27/97'"}],
             "mark": {"type": "line", "strokeWidth": 1.2, "clip": true},
             "encoding": {
               "x": {"field": "value", "type": "quantitative", "scale": {"domain": [-7.5, 173.5], "nice": false, "zero": false}, "axis": {"values": [0,40,80,120,160], "labelAngle": 90, "tickSize": 6, "labelPadding": 3, "labelOverlap": false, "title": null}},
               "y": {"field": "depth", "type": "quantitative", "scale": {"domain": [14.5, 24.5], "reverse": true, "nice": false, "zero": false}, "axis": {"values": [15,16,17,18,19,20,21,22,23,24], "labels": false, "title": null, "tickSize": 5}},
               "color": {"field": "series", "type": "nominal", "scale": {"domain": ["NO₃⁻","As(V)","As(III)"], "range": ["#e91e8c","#1a7dc3","#231f20"]}, "legend": null},
               "order": {"field": "depth", "type": "quantitative"}
             }},
            {"data": {"name": "pts"}, "transform": [{"filter": "datum.row == 'B' && datum.date == '8/27/97'"}],
             "mark": {"type": "point", "filled": false, "strokeWidth": 1.3, "size": 200, "opacity": 1, "clip": true},
             "encoding": {
               "x": {"field": "value", "type": "quantitative", "scale": {"domain": [-7.5, 173.5], "nice": false, "zero": false}, "axis": {"values": [0,40,80,120,160], "labelAngle": 90, "tickSize": 6, "labelPadding": 3, "labelOverlap": false, "title": null}},
               "y": {"field": "depth", "type": "quantitative", "scale": {"domain": [14.5, 24.5], "reverse": true, "nice": false, "zero": false}, "axis": {"values": [15,16,17,18,19,20,21,22,23,24], "labels": false, "title": null, "tickSize": 5}},
               "color": {"field": "series", "type": "nominal", "scale": {"domain": ["NO₃⁻","As(V)","As(III)"], "range": ["#e91e8c","#1a7dc3","#231f20"]}, "legend": null},
               "shape": {"field": "series", "type": "nominal", "scale": {"domain": ["NO₃⁻","As(V)","As(III)"], "range": ["circle","triangle-down","diamond"]}, "legend": null}
             }},
            {"data": {"name": "panels"}, "transform": [{"filter": "datum.row == 'B' && datum.date == '8/27/97'"}],
             "mark": {"type": "rule", "strokeDash": [15, 9], "strokeWidth": 4, "color": "#231f20"},
             "encoding": {"y": {"field": "interface", "type": "quantitative", "scale": {"domain": [14.5, 24.5], "reverse": true, "nice": false, "zero": false}, "axis": {"values": [15,16,17,18,19,20,21,22,23,24], "labels": false, "title": null, "tickSize": 5}}}},
            {"data": {"name": "panels"}, "transform": [{"filter": "datum.row == 'B' && datum.date == '8/27/97'"}],
             "mark": {"type": "text", "align": "left", "baseline": "middle", "fontSize": 20, "fontWeight": "bold", "color": "#231f20"},
             "encoding": {
               "x": {"datum": 30, "type": "quantitative", "scale": {"domain": [-7.5, 173.5], "nice": false, "zero": false}, "axis": {"values": [0,40,80,120,160], "labelAngle": 90, "tickSize": 6, "labelPadding": 3, "labelOverlap": false, "title": null}},
               "y": {"datum": 15.1, "type": "quantitative", "scale": {"domain": [14.5, 24.5], "reverse": true, "nice": false, "zero": false}, "axis": {"values": [15,16,17,18,19,20,21,22,23,24], "labels": false, "title": null, "tickSize": 5}},
               "text": {"field": "date"}}}
          ]
        },
        {
          "width": 181, "height": 301,
          "layer": [
            {"data": {"name": "pts"}, "transform": [{"filter": "datum.row == 'B' && datum.date == '11/18/97'"}],
             "mark": {"type": "line", "strokeWidth": 1.2, "clip": true},
             "encoding": {
               "x": {"field": "value", "type": "quantitative", "scale": {"domain": [-7.5, 173.5], "nice": false, "zero": false}, "axis": {"values": [0,40,80,120,160], "labelAngle": 90, "tickSize": 6, "labelPadding": 3, "labelOverlap": false, "title": null}},
               "y": {"field": "depth", "type": "quantitative", "scale": {"domain": [14.5, 24.5], "reverse": true, "nice": false, "zero": false}, "axis": {"values": [15,16,17,18,19,20,21,22,23,24], "labels": false, "title": null, "tickSize": 5}},
               "color": {"field": "series", "type": "nominal", "scale": {"domain": ["NO₃⁻","As(V)","As(III)"], "range": ["#e91e8c","#1a7dc3","#231f20"]}, "legend": null},
               "order": {"field": "depth", "type": "quantitative"}
             }},
            {"data": {"name": "pts"}, "transform": [{"filter": "datum.row == 'B' && datum.date == '11/18/97'"}],
             "mark": {"type": "point", "filled": false, "strokeWidth": 1.3, "size": 200, "opacity": 1, "clip": true},
             "encoding": {
               "x": {"field": "value", "type": "quantitative", "scale": {"domain": [-7.5, 173.5], "nice": false, "zero": false}, "axis": {"values": [0,40,80,120,160], "labelAngle": 90, "tickSize": 6, "labelPadding": 3, "labelOverlap": false, "title": null}},
               "y": {"field": "depth", "type": "quantitative", "scale": {"domain": [14.5, 24.5], "reverse": true, "nice": false, "zero": false}, "axis": {"values": [15,16,17,18,19,20,21,22,23,24], "labels": false, "title": null, "tickSize": 5}},
               "color": {"field": "series", "type": "nominal", "scale": {"domain": ["NO₃⁻","As(V)","As(III)"], "range": ["#e91e8c","#1a7dc3","#231f20"]}, "legend": null},
               "shape": {"field": "series", "type": "nominal", "scale": {"domain": ["NO₃⁻","As(V)","As(III)"], "range": ["circle","triangle-down","diamond"]}, "legend": null}
             }},
            {"data": {"name": "panels"}, "transform": [{"filter": "datum.row == 'B' && datum.date == '11/18/97'"}],
             "mark": {"type": "rule", "strokeDash": [15, 9], "strokeWidth": 4, "color": "#231f20"},
             "encoding": {"y": {"field": "interface", "type": "quantitative", "scale": {"domain": [14.5, 24.5], "reverse": true, "nice": false, "zero": false}, "axis": {"values": [15,16,17,18,19,20,21,22,23,24], "labels": false, "title": null, "tickSize": 5}}}},
            {"data": {"name": "panels"}, "transform": [{"filter": "datum.row == 'B' && datum.date == '11/18/97'"}],
             "mark": {"type": "text", "align": "right", "baseline": "middle", "fontSize": 20, "fontWeight": "bold", "color": "#231f20"},
             "encoding": {
               "x": {"datum": 169, "type": "quantitative", "scale": {"domain": [-7.5, 173.5], "nice": false, "zero": false}, "axis": {"values": [0,40,80,120,160], "labelAngle": 90, "tickSize": 6, "labelPadding": 3, "labelOverlap": false, "title": null}},
               "y": {"datum": 15.1, "type": "quantitative", "scale": {"domain": [14.5, 24.5], "reverse": true, "nice": false, "zero": false}, "axis": {"values": [15,16,17,18,19,20,21,22,23,24], "labels": false, "title": null, "tickSize": 5}},
               "text": {"field": "date"}}}
          ]
        }
      ]
    }
  ],
  "config": {
    "font": "Liberation Sans",
    "view": {"stroke": "#231f20", "strokeWidth": 1.5},
    "axis": {"grid": false, "domain": false, "labelOverlap": false, "labelFont": "Liberation Sans", "labelFontSize": 17, "labelColor": "#231f20", "tickColor": "#231f20", "tickWidth": 1.2, "titleFont": "Liberation Sans", "titleFontSize": 24, "titleFontWeight": "bold", "titleColor": "#231f20"},
    "axisY": {"labelOverlap": false},
    "axisX": {"labelFontSize": 15},
    "legend": {"labelFont": "Liberation Sans", "labelColor": "#231f20", "padding": 0},
    "title": {"font": "Liberation Sans", "fontSize": 25, "fontWeight": "bold", "color": "#231f20"}
  }
}
